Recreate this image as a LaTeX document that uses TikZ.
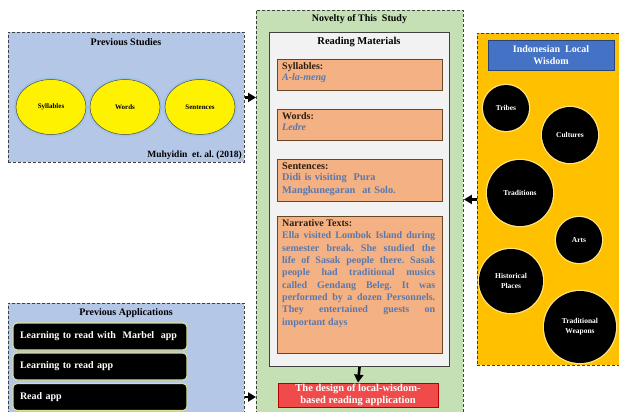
\documentclass[tikz,border=0pt]{standalone}
\usepackage{fontspec}
\setmainfont{Liberation Serif}
\usetikzlibrary{shapes.geometric,arrows.meta,calc}
\definecolor{psblue}{HTML}{B4C7E7}
\definecolor{novgreen}{HTML}{C5E0B4}
\definecolor{rmgray}{HTML}{F2F2F2}
\definecolor{salmon}{HTML}{F4B183}
\definecolor{gold}{HTML}{FFC000}
\definecolor{titleblue}{HTML}{4472C4}
\definecolor{redbox}{HTML}{F04A4A}
\definecolor{bodyblue}{HTML}{5A78AD}
\definecolor{labeldark}{HTML}{2E1C10}
\definecolor{glowblue}{HTML}{9DC3E6}
\definecolor{glowyel}{HTML}{FFE680}
\definecolor{appedge}{HTML}{D8E09A}
\begin{document}
\frenchspacing
\begin{tikzpicture}[x=1pt,y=-1pt,
  every node/.style={font=\bfseries},
  dashbox/.style={draw=black!75, line width=0.9pt, dash pattern=on 3pt off 2pt, inner sep=0, anchor=north west},
  ttl/.style={inner sep=0, font=\bfseries\fontsize{10}{12}\selectfont},
  matbox/.style={draw=black!45!brown, fill=salmon, line width=0.6pt, anchor=north west, minimum width=165pt, inner sep=0},
  mattext/.style={anchor=north west, inner sep=0, text width=153pt, align=left, font=\bfseries\fontsize{10}{12}\selectfont, text=labeldark},
  ell/.style={ellipse, fill=yellow, draw=black!70, line width=0.5pt, minimum width=70pt, minimum height=55pt, inner sep=0,
     preaction={draw=glowblue, line width=4pt}, font=\bfseries\fontsize{7}{8}\selectfont},
  circ/.style={circle, fill=black, inner sep=0, text=white, align=center, preaction={draw=glowyel, line width=2.5pt},
     font=\bfseries\fontsize{7.5}{10}\selectfont},
  appbox/.style={fill=black, draw=appedge, line width=1.2pt, rounded corners=4pt, minimum width=174pt, minimum height=27pt,
     text width=160pt, align=left, text=white, inner sep=7pt, font=\bfseries\fontsize{10}{12}\selectfont},
  arr/.style={line width=2.6pt, -{Triangle[length=8pt,width=9pt]}}
]
\useasboundingbox (0,0) rectangle (619,412);
\clip (0,0) rectangle (619,412);

% Previous Studies
\node[dashbox, fill=psblue, minimum width=236pt, minimum height=130pt] (ps) at (8,32) {};
\node[ttl] (pst) at (126,42) {Previous Studies};
\node[ell] (e1) at (51,107) {Syllables};
\node[ell] (e2) at (125,107) {Words};
\node[ell] (e3) at (200,107) {Sentences};
\node[inner sep=0, anchor=east, font=\bfseries\fontsize{9.5}{11}\selectfont] (cite) at (242,155) {Muhyidin\ \ et. al. (2018)};

% Previous Applications
\node[dashbox, fill=psblue, minimum width=236pt, minimum height=120pt] (pa) at (8,303) {};
\node[ttl] (pat) at (126,313) {Previous Applications};
\node[appbox] (a1) at (100,336.5) {Learning to read with\ \ Marbel\ \ app};
\node[appbox] (a2) at (100,366.5) {Learning to read app};
\node[appbox] (a3) at (100,397) {Read app};

% Novelty
\node[dashbox, fill=novgreen, minimum width=207pt, minimum height=415pt] (nov) at (256,10) {};
\node[ttl] (novt) at (359.5,19.5) {Novelty of This\ \ Study};
\node[draw=black!75, fill=rmgray, line width=1.1pt, anchor=north west, minimum width=180pt, minimum height=334pt, inner sep=0] (rm) at (269,32) {};
\node[ttl, font=\bfseries\fontsize{10.5}{12}\selectfont] (rmt) at (359,42.5) {Reading Materials};

\node[matbox, minimum height=31pt] (syl) at (277,59) {};
\node[mattext] (sylt) at ($(syl.north west)+(5,3)$) {Syllables:\\[-1pt]\textcolor{bodyblue}{\itshape A-la-meng}};
\node[matbox, minimum height=31pt] (wrd) at (277,109) {};
\node[mattext] (wrdt) at ($(wrd.north west)+(5,3)$) {Words:\\[-1pt]\textcolor{bodyblue}{\itshape Ledre}};
\node[matbox, minimum height=42pt] (sen) at (277,159) {};
\node[mattext, font=\bfseries\fontsize{10.3}{12.5}\selectfont] (sent) at ($(sen.north west)+(5,3)$) {Sentences:\\[-1pt]\textcolor{bodyblue}{Didi is visiting\ \ Pura\\ Mangkunegaran\ \ at Solo.}};
\node[matbox, minimum height=137pt] (nar) at (277,216) {};
\node[mattext, align=justify, font=\bfseries\fontsize{10}{12.3}\selectfont] (nart) at ($(nar.north west)+(5,3.5)$) {Narrative Texts:\\
\textcolor{bodyblue}{Ella visited Lombok Island during\linebreak semester break. She studied the\linebreak life of Sasak people there. Sasak\linebreak people had traditional musics\linebreak called Gendang Beleg. It was\linebreak performed by a dozen Personnels.\linebreak They entertained guests on\linebreak important days}};

\node[fill=redbox, draw=black!30!red, line width=0.8pt, minimum width=160pt, minimum height=24pt, inner sep=0, text=white, align=center,
  font=\bfseries\fontsize{10.5}{12}\selectfont] (des) at (358,395) {The design of local-wisdom-\\based reading application};

% Indonesian Local Wisdom
\node[dashbox, fill=gold, minimum width=145pt, minimum height=332pt] (iw) at (477,33) {};
\node[fill=titleblue, draw=black!40!titleblue, line width=0.8pt, minimum width=126pt, minimum height=30pt, inner sep=0, text=white, align=center,
  font=\bfseries\fontsize{10}{12}\selectfont] (iwt) at (551,55) {Indonesian\ \ Local\\Wisdom};
\node[circ, minimum size=46pt] (c1) at (506,108) {Tribes};
\node[circ, minimum size=56pt] (c2) at (570,135) {Cultures};
\node[circ, minimum size=66pt] (c3) at (520,193) {Traditions};
\node[circ, minimum size=46pt] (c4) at (579,240) {Arts};
\node[circ, minimum size=64pt] (c5) at (511,281) {Historical\\Places};
\node[circ, minimum size=72pt] (c6) at (580,327) {Traditional\\Weapons};

% arrows
\draw[arr] (ps.east) -- (ps.east -| nov.west);
\draw[arr] (iw.west) -- (iw.west -| nov.east);
\draw[arr] (a3.east -| pa.east) -- (a3.east -| nov.west);
\draw[arr] (rm.south) -- (des.north);
\end{tikzpicture}
\end{document}
